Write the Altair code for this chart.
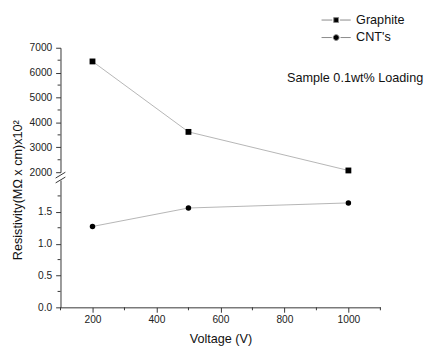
import altair as alt
import pandas as pd

voltage = [200, 500, 1000]
graphite = [6450, 3620, 2070]
cnt = [1.27, 1.56, 1.64]
series = ["Graphite", "CNT's"]
sample_text = ["Sample 0.1wt% Loading"]
x_major = [200, 400, 600, 800, 1000]
x_minor = [100, 300, 500, 700, 900, 1100]
y_top_major = [2000, 3000, 4000, 5000, 6000, 7000]
y_top_minor = [2500, 3500, 4500, 5500, 6500]
y_bot_major = [0.0, 0.5, 1.0, 1.5]
y_bot_minor = [0.25, 0.75, 1.25, 1.75]

FONT = "Liberation Sans"
AX = "#333333"
LINE = "#b4b4b4"
W, H_TOP, H_BOT = 329, 128, 131

sq_path = "M-3,0H-0.8M0.8,0H3M-0.5,-0.5H0.5V0.5H-0.5Z"
ci_path = "M-3,0H-0.9M0.9,0H3M0.6,0A0.6,0.6,0,1,1,-0.6,0A0.6,0.6,0,1,1,0.6,0Z"

x_scale = alt.Scale(domain=[100, 1100], nice=False, zero=False)
y_top_scale = alt.Scale(domain=[2000, 7000], nice=False, zero=False)
y_bot_scale = alt.Scale(domain=[0, 2.0], nice=False)

y_top_axis = alt.Axis(values=y_top_major, format="d", title=None, grid=False, tickSize=5,
                      labelPadding=4, labelOverlap=False, labelFlush=False)
x_bot_axis = alt.Axis(values=x_major, format="d", title="Voltage (V)", grid=False, tickSize=5,
                      labelPadding=3, titlePadding=8, labelOverlap=False, labelFlush=False)
y_bot_axis = alt.Axis(values=y_bot_major, format=".1f", title="Resistivity(MΩ x cm)x10²",
                      grid=False, tickSize=5, labelPadding=4, titleY=10, titlePadding=14,
                      labelOverlap=False, labelFlush=False)

# ---------- upper panel ----------
top_df = pd.DataFrame({"voltage": voltage, "value": graphite})
xt = alt.X("voltage:Q", scale=x_scale, axis=None)
yt = alt.Y("value:Q", scale=y_top_scale, axis=y_top_axis)

top_line = alt.Chart(top_df).mark_line(color=LINE, strokeWidth=1).encode(xt, yt)
top_pts = alt.Chart(top_df).mark_point(shape="square", filled=True, color="black", size=36, opacity=1).encode(xt, yt)
top_minor = alt.Chart(pd.DataFrame({"value": y_top_minor})).mark_rule(color=AX, strokeWidth=1).encode(
    y=alt.Y("value:Q", scale=y_top_scale, axis=y_top_axis), x=alt.value(-3), x2=alt.value(0))

leg = alt.Legend(orient="none", legendX=277, legendY=-35, title=None,
                 symbolSize=100, labelOffset=14, rowPadding=4,
                 labelFont=FONT, labelFontSize=13, labelColor="#111111",
                 symbolStrokeWidth=1, symbolOpacity=1, padding=0)

legend_layer = alt.Chart(pd.DataFrame({"series": series})).mark_point(
    filled=True, strokeWidth=1, opacity=1, clip=True
).encode(
    x=alt.value(-100), y=alt.value(-100),
    shape=alt.Shape("series:N", scale=alt.Scale(domain=series, range=[sq_path, ci_path]), legend=leg),
    fill=alt.Fill("series:N", scale=alt.Scale(domain=series, range=["black", "black"]), legend=leg),
    stroke=alt.Stroke("series:N", scale=alt.Scale(domain=series, range=["#888888", "#888888"]), legend=leg),
)

sample = alt.Chart(pd.DataFrame({"t": sample_text})).mark_text(
    font=FONT, fontSize=13, color="#111111", align="left", baseline="middle"
).encode(text="t:N", x=alt.value(233), y=alt.value(31))

top = alt.layer(top_line, top_minor, top_pts, legend_layer, sample).properties(width=W, height=H_TOP)

# ---------- lower panel ----------
bot_df = pd.DataFrame({"voltage": voltage, "value": cnt})
xb = alt.X("voltage:Q", scale=x_scale, axis=x_bot_axis)
yb = alt.Y("value:Q", scale=y_bot_scale, axis=y_bot_axis)

bot_line = alt.Chart(bot_df).mark_line(color=LINE, strokeWidth=1).encode(xb, yb)
bot_pts = alt.Chart(bot_df).mark_point(shape="circle", filled=True, color="black", size=32, opacity=1).encode(xb, yb)
bot_yminor = alt.Chart(pd.DataFrame({"value": y_bot_minor})).mark_rule(color=AX, strokeWidth=1).encode(
    y=alt.Y("value:Q", scale=y_bot_scale, axis=y_bot_axis), x=alt.value(-3), x2=alt.value(0))
bot_xminor = alt.Chart(pd.DataFrame({"voltage": x_minor})).mark_rule(color=AX, strokeWidth=1).encode(
    x=alt.X("voltage:Q", scale=x_scale, axis=x_bot_axis), y=alt.value(H_BOT), y2=alt.value(H_BOT + 3))

brk = pd.DataFrame({"k": [0]})
brk1 = alt.Chart(brk).mark_rule(color=AX, strokeWidth=1).encode(
    x=alt.value(-5), x2=alt.value(5), y=alt.value(-2), y2=alt.value(-8))
brk2 = alt.Chart(brk).mark_rule(color=AX, strokeWidth=1).encode(
    x=alt.value(-5), x2=alt.value(5), y=alt.value(3), y2=alt.value(-3))

bottom = alt.layer(bot_line, bot_yminor, bot_xminor, bot_pts, brk1, brk2).properties(width=W, height=H_BOT)

chart = alt.vconcat(top, bottom, spacing=8, bounds="flush").properties(
    padding={"left": 3, "top": 1, "right": 5, "bottom": 0}
).configure_view(stroke=None).configure_axis(
    domainColor=AX, tickColor=AX, labelColor="#222222", titleColor="#111111",
    labelFont=FONT, titleFont=FONT, labelFontSize=10.5, titleFontSize=13,
    titleFontWeight="normal",
)

chart.save("out.html", embed_options={"renderer": "svg", "actions": False})
